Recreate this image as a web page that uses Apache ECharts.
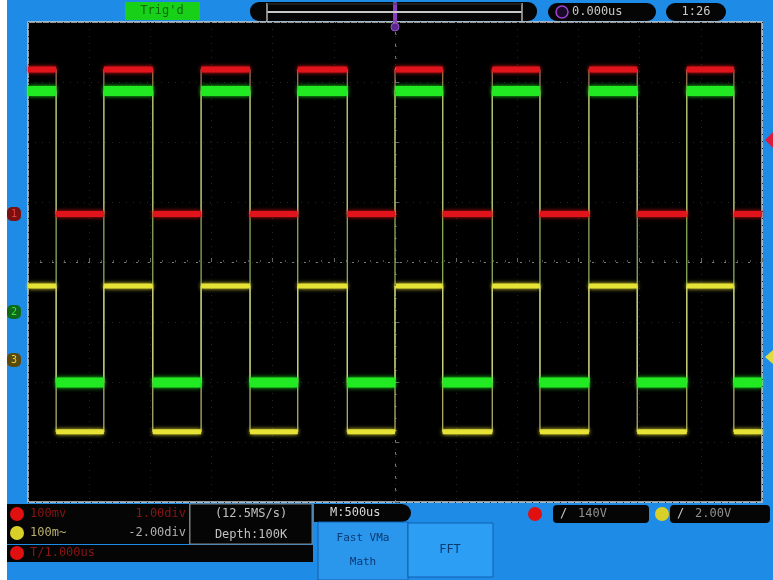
<!DOCTYPE html>
<html><head><meta charset="utf-8">
<script src="https://cdn.jsdelivr.net/npm/echarts@6/dist/echarts.min.js"></script>
<style>html,body{margin:0;padding:0;background:#fff}#c{width:773px;height:580px}</style>
</head><body><div id="c"></div><script>
// Edge times (in divisions from trigger point); trace starts high at the left edge
const edgeTimes = [-5.54, -4.76, -3.96, -3.17, -2.37, -1.59, -0.78, 0, 0.78, 1.59, 2.37, 3.17, 3.96, 4.77, 5.54];
const channelNames = ['CH1', 'CH2', 'CH3'];
const highLevels = [3.21, 2.85, -0.40];
const lowLevels = [0.80, -2.01, -2.83];
const xRange = [-6, 6];
const yRange = [-4, 4];

const traceColors = ['#e0141a', '#22ea22', '#e6e236'];
const edgeColors = ['#c89a70', '#b4dc78', '#e2de88'];
const traceWidths = [6, 10, 5];

function buildTrace(hi, lo) {
  const pts = [];
  let level = hi;
  pts.push([xRange[0], level]);
  edgeTimes.forEach(t => { pts.push([t, level]); level = (level === hi) ? lo : hi; pts.push([t, level]); });
  pts.push([xRange[1], level]);
  return pts;
}
function buildFlats(hi, lo) {
  const pts = [];
  let level = hi, start = xRange[0];
  edgeTimes.concat([xRange[1]]).forEach(t => {
    pts.push([start, level], [t, level], [t, '-']);
    level = (level === hi) ? lo : hi;
    start = t;
  });
  return pts;
}

const series = [];
channelNames.forEach((name, i) => {
  series.push({
    name: name + ' edges', type: 'line', data: buildTrace(highLevels[i], lowLevels[i]),
    symbol: 'none', silent: true, z: 2, animation: false,
    lineStyle: { color: edgeColors[i], width: 1.2, opacity: 0.85 }
  });
});
channelNames.forEach((name, i) => {
  series.push({
    name: name, type: 'line', data: buildFlats(highLevels[i], lowLevels[i]),
    symbol: 'none', silent: true, z: 3, animation: false, connectNulls: false,
    lineStyle: { color: traceColors[i], width: traceWidths[i], shadowBlur: 4, shadowColor: traceColors[i] }
  });
});
series[0].markLine = {
  silent: true, symbol: 'none', animation: false, label: { show: false },
  lineStyle: { color: '#7a7a7a', type: [2, 10], width: 1 },
  data: [{ yAxis: 0 }, { xAxis: 0 }]
};

const mono = '"DejaVu Sans Mono", monospace';
function txt(x, y, s, fill, size, align) {
  return { type: 'text', x: x, y: y, z: 100, style: { text: s, fill: fill, font: (size || 12) + 'px ' + mono, textAlign: align || 'left', textVerticalAlign: 'middle' } };
}
function rect(x, y, w, h, fill, r, stroke) {
  return { type: 'rect', z: 90, shape: { x: x, y: y, width: w, height: h, r: r || 0 }, style: { fill: fill, stroke: stroke || null, lineWidth: stroke ? 1 : 0 } };
}
function circ(cx, cy, r, fill) {
  return { type: 'circle', z: 95, shape: { cx: cx, cy: cy, r: r }, style: { fill: fill } };
}

const graphics = [
  rect(0, 0, 7, 580, '#ffffff'),
  // top bar
  rect(125, 2, 75, 18, '#18d018'),
  txt(162, 11, "Trig'd", '#0b6a0b', 12, 'center'),
  rect(250, 2, 287, 19, '#050505', 9),
  { type: 'line', z: 96, shape: { x1: 267, y1: 12, x2: 522, y2: 12 }, style: { stroke: '#c8c8c8', lineWidth: 2 } },
  { type: 'line', z: 96, shape: { x1: 267, y1: 3, x2: 267, y2: 22 }, style: { stroke: '#b0b0b0', lineWidth: 1.5 } },
  { type: 'line', z: 96, shape: { x1: 522, y1: 3, x2: 522, y2: 22 }, style: { stroke: '#b0b0b0', lineWidth: 1.5 } },
  { type: 'line', z: 96, shape: { x1: 267, y1: 4, x2: 522, y2: 4 }, style: { stroke: '#3a3a3a', lineWidth: 1 } },
  rect(393, 2, 4, 20, '#8a3cc0'),
  { type: 'circle', z: 96, shape: { cx: 395, cy: 27, r: 4 }, style: { fill: '#5a2a8a', stroke: '#9a50d0', lineWidth: 1 } },
  rect(548, 3, 108, 18, '#050505', 9),
  { type: 'circle', z: 96, shape: { cx: 562, cy: 12, r: 6 }, style: { fill: '#1a0a2a', stroke: '#a040d0', lineWidth: 1.5 } },
  txt(572, 12, '0.000us', '#c8c8c8', 12),
  rect(666, 3, 60, 18, '#050505', 9),
  txt(696, 12, '1:26', '#c8c8c8', 12, 'center'),
  // left channel markers
  rect(7, 207, 14, 14, '#7a1010', 5),
  txt(14, 214, '1', '#e04040', 10, 'center'),
  rect(7, 305, 14, 14, '#0e6a1a', 5),
  txt(14, 312, '2', '#40e040', 10, 'center'),
  rect(7, 353, 14, 14, '#5a4a10', 5),
  txt(14, 360, '3', '#e0d040', 10, 'center'),
  // right markers
  { type: 'polygon', z: 95, shape: { points: [[773, 132], [765, 140], [773, 148]] }, style: { fill: '#e01a3a' } },
  { type: 'polygon', z: 95, shape: { points: [[773, 350], [765, 357], [773, 364]] }, style: { fill: '#e0dc40' } },
  // bottom panel
  rect(7, 504, 182, 40, '#050505'),
  circ(17, 514, 7, '#e01010'),
  txt(30, 514, '100mv', '#8a1414', 12),
  txt(186, 514, '1.00div', '#8a1414', 12, 'right'),
  circ(17, 533, 7, '#d8d028'),
  txt(30, 533, '100m~', '#b8b070', 12),
  txt(186, 533, '-2.00div', '#b0b0b0', 12, 'right'),
  rect(190, 504, 122, 40, '#050505', 0, '#808080'),
  txt(251, 514, '(12.5MS/s)', '#c0c0c0', 12, 'center'),
  txt(251, 535, 'Depth:100K', '#c0c0c0', 12, 'center'),
  rect(7, 545, 306, 17, '#050505'),
  circ(17, 553, 7, '#e01010'),
  txt(30, 553, 'T/1.000us', '#8a1414', 12),
  rect(314, 504, 97, 18, '#050505', [0, 9, 9, 0]),
  txt(330, 513, 'M:500us', '#d8d8d8', 12),
  rect(318, 522, 90, 58, '#2a96ec', 0, '#1060b0'),
  txt(363, 538, 'Fast VMa', '#0c3a72', 11, 'center'),
  txt(363, 562, 'Math', '#0c3a72', 11, 'center'),
  rect(408, 523, 85, 54, '#2c9ef4', 0, '#1060b0'),
  txt(450, 550, 'FFT', '#0c3a72', 12, 'center'),
  circ(535, 514, 7, '#e01010'),
  rect(553, 505, 96, 18, '#050505', 4),
  txt(560, 514, '/', '#c8c8c8', 12),
  txt(578, 514, '140V', '#909090', 12),
  circ(662, 514, 7, '#d8d028'),
  rect(670, 505, 100, 18, '#050505', 4),
  txt(677, 514, '/', '#c8c8c8', 12),
  txt(695, 514, '2.00V', '#909090', 12)
];

const chart = echarts.init(document.getElementById('c'));
chart.setOption({
  backgroundColor: '#1e8ce6',
  animation: false,
  grid: { left: 28, right: 11, top: 22, bottom: 78, show: true, backgroundColor: '#000', borderColor: '#c8c8c8', borderWidth: 1.5 },
  xAxis: {
    type: 'value', min: xRange[0], max: xRange[1], interval: 1,
    axisLabel: { show: false }, axisLine: { show: false },
    axisTick: { show: true, inside: true, length: 4, lineStyle: { color: '#666' } },
    minorTick: { show: true, splitNumber: 5, length: 2, lineStyle: { color: '#4a4a4a' } },
    splitLine: { show: true, lineStyle: { color: '#262626', type: [1, 6] } }
  },
  yAxis: {
    type: 'value', min: yRange[0], max: yRange[1], interval: 1,
    axisLabel: { show: false }, axisLine: { show: false },
    axisTick: { show: true, inside: true, length: 4, lineStyle: { color: '#666' } },
    minorTick: { show: true, splitNumber: 5, length: 2, lineStyle: { color: '#4a4a4a' } },
    splitLine: { show: true, lineStyle: { color: '#262626', type: [1, 6] } }
  },
  series: series,
  graphic: graphics
});
</script></body></html>
